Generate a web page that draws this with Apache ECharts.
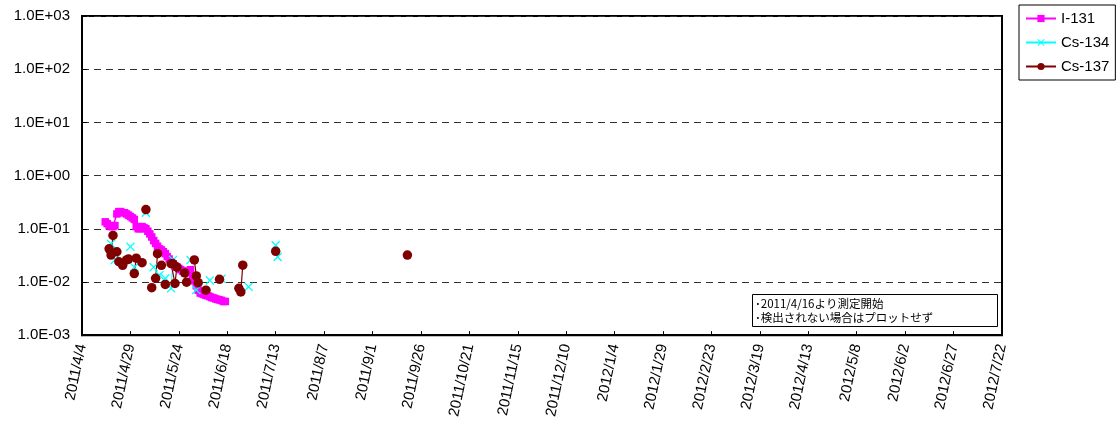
<!DOCTYPE html>
<html>
<head>
<meta charset="utf-8">
<script src="https://cdn.jsdelivr.net/npm/echarts@6/dist/echarts.min.js"></script>
<style>
html,body{margin:0;padding:0;background:#fff;}
#chart{width:1119px;height:421px;}
</style>
</head>
<body>
<div id="chart"></div>
<script>
// ---- data ----
var startDate = '2011/4/4';
var endDate = '2012/7/22';
var tickDays = 25;
var yTicks = [0.001, 0.01, 0.1, 1, 10, 100, 1000];

var i131Dates = ['2011/4/16','2011/4/17','2011/4/18','2011/4/19','2011/4/20','2011/4/21','2011/4/22','2011/4/23','2011/4/24','2011/4/25','2011/4/26','2011/4/27','2011/4/28','2011/4/29','2011/4/30','2011/5/1','2011/5/2','2011/5/3','2011/5/4','2011/5/5','2011/5/6','2011/5/7','2011/5/8','2011/5/9','2011/5/10','2011/5/11','2011/5/12','2011/5/13','2011/5/14','2011/5/15','2011/5/16','2011/5/17','2011/5/18','2011/5/19','2011/5/20','2011/5/21','2011/5/22','2011/5/23','2011/5/24','2011/5/25','2011/5/26','2011/5/27','2011/5/28','2011/5/29','2011/5/30','2011/5/31','2011/6/1','2011/6/2','2011/6/3','2011/6/4','2011/6/5','2011/6/6','2011/6/7','2011/6/8','2011/6/9','2011/6/10','2011/6/11','2011/6/12','2011/6/13','2011/6/14','2011/6/15','2011/6/16','2011/6/17'];
var i131Values = [0.135,0.125,0.115,0.11,0.11,0.115,0.19,0.21,0.21,0.2,0.2,0.19,0.18,0.17,0.16,0.15,0.11,0.1,0.1,0.11,0.105,0.1,0.09,0.08,0.07,0.06,0.053,0.047,0.042,0.04,0.037,0.034,0.03,0.027,0.024,0.022,0.02,0.019,0.018,0.017,0.016,0.015,0.015,0.016,0.017,0.013,0.0105,0.0085,0.007,0.0062,0.006,0.0058,0.0056,0.0055,0.0053,0.0051,0.005,0.0048,0.0047,0.0046,0.0045,0.0043,0.0043];

var cs134Dates = ['2011/4/19','2011/4/21','2011/4/29','2011/5/1','2011/5/7','2011/5/11','2011/5/14','2011/5/17','2011/5/20','2011/5/21','2011/5/30','2011/6/2','2011/6/9','2011/6/15','2011/6/29','2011/7/13','2011/7/14'];
var cs134Values = [0.052,0.026,0.046,0.019,0.2,0.019,0.0134,0.0117,0.0076,0.026,0.026,0.0071,0.0107,0.0115,0.0081,0.049,0.0295];

var cs137Dates = ['2011/4/18','2011/4/19','2011/4/20','2011/4/22','2011/4/23','2011/4/25','2011/4/27','2011/4/28','2011/5/1','2011/5/2','2011/5/5','2011/5/7','2011/5/10','2011/5/12','2011/5/13','2011/5/15','2011/5/17','2011/5/20','2011/5/21','2011/5/22','2011/5/23','2011/5/27','2011/5/28','2011/6/1','2011/6/2','2011/6/3','2011/6/7','2011/6/14','2011/6/24','2011/6/25','2011/6/26','2011/7/13','2011/9/19'];
var cs137Values = [0.042,0.032,0.075,0.037,0.024,0.0206,0.026,0.027,0.0144,0.028,0.023,0.23,0.0078,0.0117,0.034,0.0206,0.009,0.022,0.022,0.0094,0.019,0.0148,0.0099,0.026,0.013,0.0097,0.007,0.0112,0.0076,0.0065,0.0207,0.0377,0.032];

var seriesNames = ['I-131', 'Cs-134', 'Cs-137'];
var noteLines = ['･2011/4/16より測定開始', '･検出されない場合はプロットせず'];

// ---- helpers ----
function dayNum(s) {
  var p = s.split('/');
  var b = startDate.split('/');
  return Math.round((Date.UTC(+p[0], +p[1]-1, +p[2]) - Date.UTC(+b[0], +b[1]-1, +b[2])) / 86400000);
}
function dayLabel(d) {
  var b = startDate.split('/');
  var t = new Date(Date.UTC(+b[0], +b[1]-1, +b[2]) + Math.round(d) * 86400000);
  return t.getUTCFullYear() + '/' + (t.getUTCMonth()+1) + '/' + t.getUTCDate();
}
function build(dates, vals) {
  var out = [], prev = null;
  for (var i = 0; i < dates.length; i++) {
    var d = dayNum(dates[i]);
    if (prev !== null && d - prev > 1) out.push([prev + 0.5, '-']);
    out.push([d, vals[i]]);
    prev = d;
  }
  return out;
}
function expFmt(v) {
  var e = Math.round(Math.log10(v));
  var a = Math.abs(e);
  return '1.0E' + (e >= 0 ? '+' : '-') + (a < 10 ? '0' : '') + a;
}

var crossPath = 'path://M1,0L5,4L9,0L10,1L6,5L10,9L9,10L5,6L1,10L0,9L4,5L0,1Z';

var chart = echarts.init(document.getElementById('chart'), null, {renderer: 'canvas'});
var font = 'Liberation Sans, Arial, sans-serif';
chart.setOption({
  backgroundColor: '#fff',
  animation: false,
  textStyle: {fontFamily: font},
  grid: {left: 82, right: 117, top: 16, bottom: 84, show: true, borderColor: '#000', borderWidth: 2, containLabel: false},
  legend: {
    orient: 'vertical', left: 1019, top: 5,
    padding: [6, 6, 6, 6], itemGap: 9, itemWidth: 30, itemHeight: 9,
    borderColor: '#000', borderWidth: 1, backgroundColor: '#fff',
    textStyle: {fontSize: 15, color: '#000', fontFamily: font},
    data: seriesNames
  },
  xAxis: {
    type: 'value', min: dayNum(startDate), max: dayNum(endDate), interval: tickDays,
    axisLine: {show: true, lineStyle: {color: '#000', width: 2}},
    axisTick: {show: true, inside: true, length: 4, lineStyle: {color: '#000'}},
    splitLine: {show: false},
    axisLabel: {rotate: 78, fontSize: 15, color: '#000', margin: 9, fontFamily: font,
      formatter: function (v) { return dayLabel(v); }}
  },
  yAxis: {
    type: 'log', logBase: 10, min: yTicks[0], max: yTicks[yTicks.length-1],
    axisLine: {show: true, lineStyle: {color: '#000', width: 2}},
    axisTick: {show: true, inside: true, length: 5, lineStyle: {color: '#000'}},
    splitLine: {show: true, lineStyle: {color: '#333', type: [7, 5], width: 1}},
    axisLabel: {fontSize: 15, color: '#000', margin: 12, fontFamily: font, formatter: expFmt}
  },
  series: [
    {name: seriesNames[0], type: 'line', data: build(i131Dates, i131Values),
      symbol: 'rect', symbolSize: 7.5, connectNulls: false,
      lineStyle: {color: '#FF00FF', width: 1.5}, itemStyle: {color: '#FF00FF'}},
    {name: seriesNames[1], type: 'line', data: build(cs134Dates, cs134Values),
      symbol: crossPath, symbolSize: 9, connectNulls: false,
      lineStyle: {color: '#00FFFF', width: 1}, itemStyle: {color: '#00FFFF'}},
    {name: seriesNames[2], type: 'line', data: build(cs137Dates, cs137Values),
      symbol: 'circle', symbolSize: 9.5, connectNulls: false,
      lineStyle: {color: '#800000', width: 1.2}, itemStyle: {color: '#800000'}}
  ],
  graphic: [
    {type: 'rect', left: 752, top: 294, shape: {width: 245, height: 32},
      style: {fill: '#fff', stroke: '#000', lineWidth: 1}, z: 10},
    {type: 'text', left: 755, top: 296, z: 11,
      style: {text: noteLines.join('\n'), fontSize: 11.5, lineHeight: 14.5, fill: '#000',
        fontFamily: 'Noto Sans CJK JP, sans-serif'}}
  ]
});
</script>
</body>
</html>
